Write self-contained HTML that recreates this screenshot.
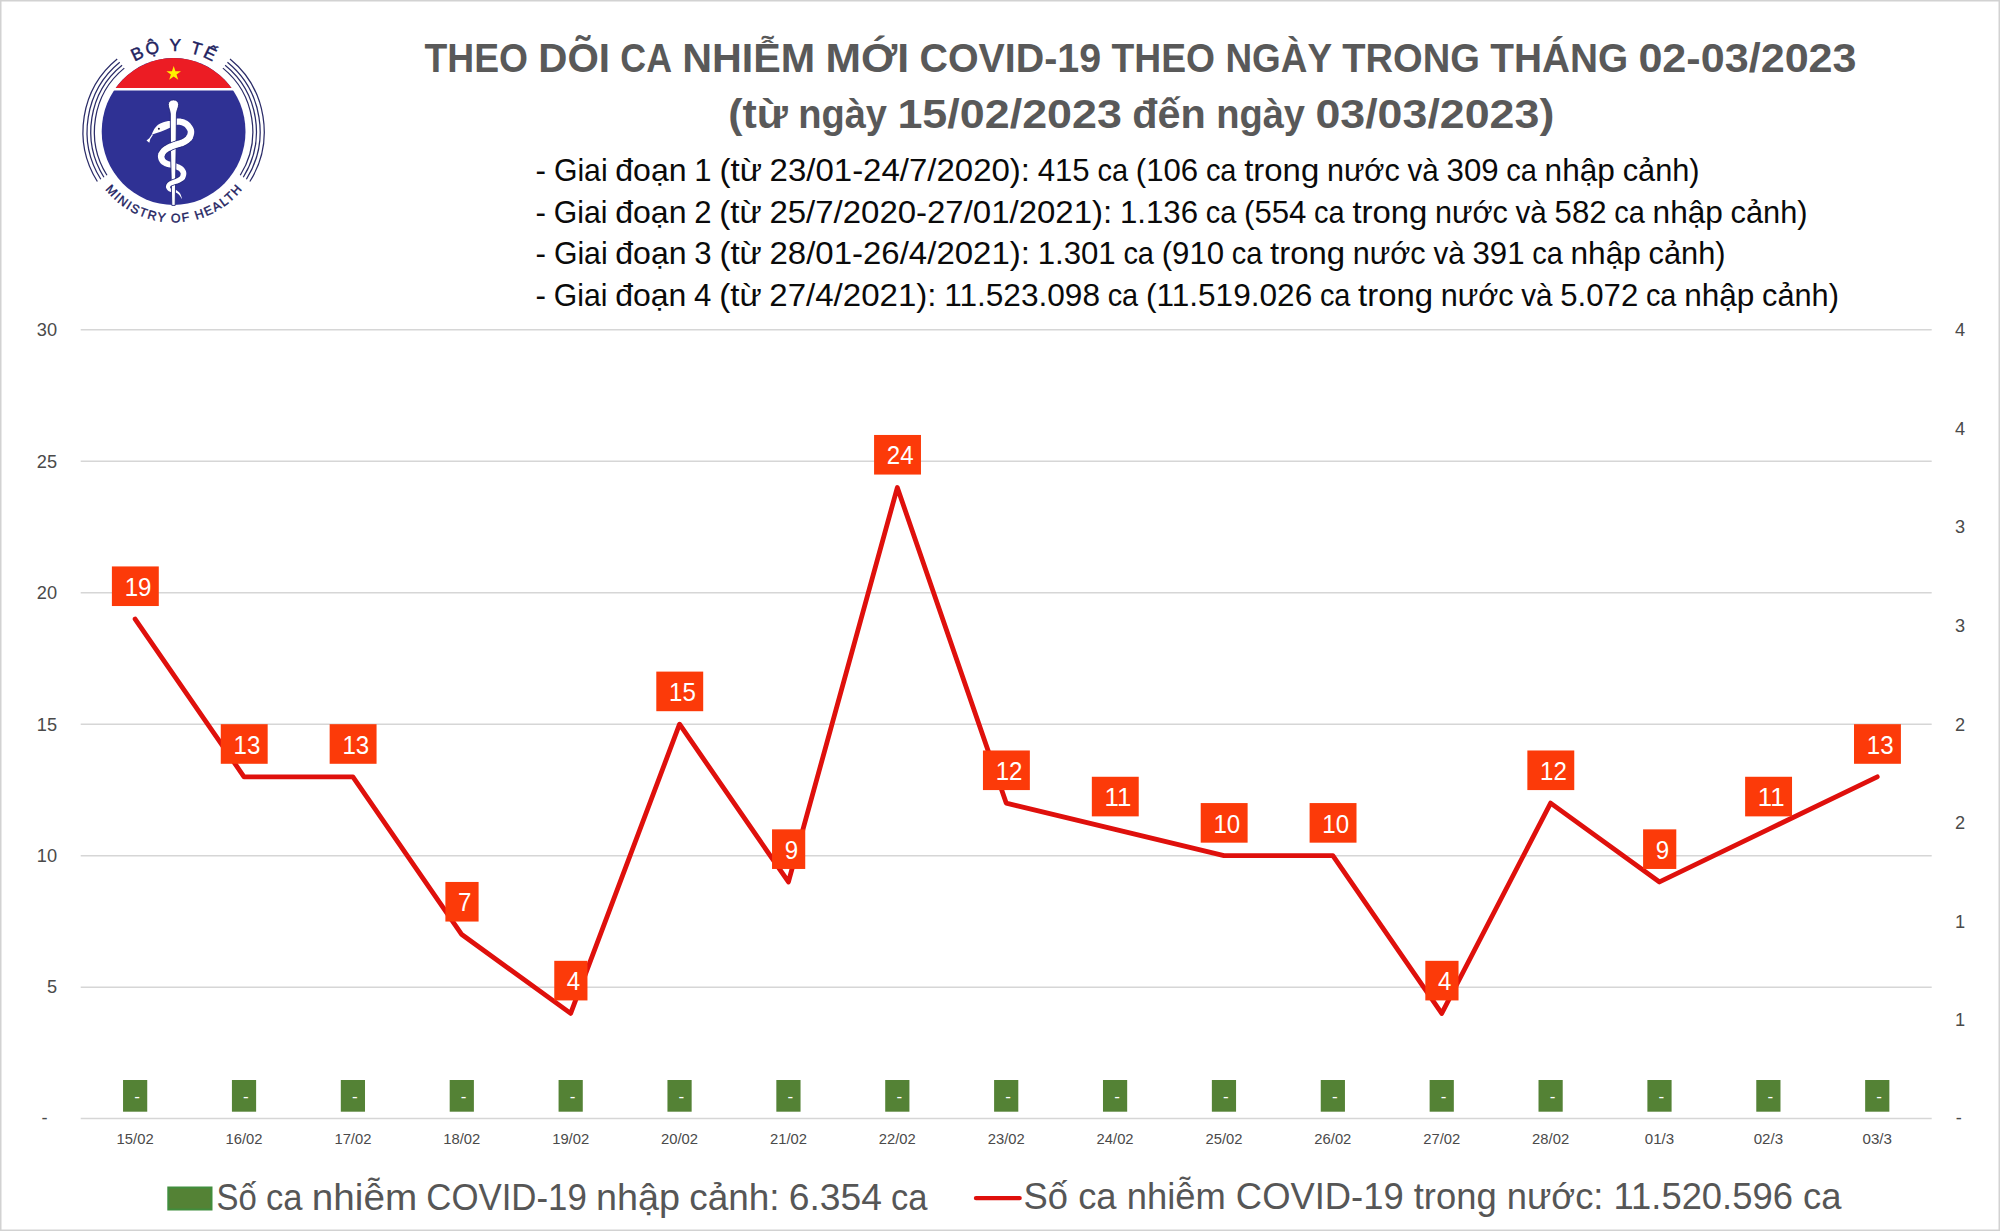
<!DOCTYPE html>
<html lang="vi"><head><meta charset="utf-8"><title>Theo dõi ca nhiễm mới COVID-19</title>
<style>
html,body{margin:0;padding:0;background:#fff;}
body{width:2000px;height:1231px;overflow:hidden;}
svg{display:block;}
text{font-family:"Liberation Sans", sans-serif;}
.t{font-weight:bold;fill:#595959;}
.b{fill:#0a0a0a;}
.ax{fill:#4a4a4a;}
.lg{fill:#565656;}
.dl{fill:#ffffff;}
.logo{fill:#22225f;}
</style></head><body>
<svg width="2000" height="1231" viewBox="0 0 2000 1231">
<rect x="0" y="0" width="2000" height="1231" fill="#ffffff"/>
<rect x="0.75" y="0.75" width="1998.5" height="1229.5" fill="none" stroke="#d2d2d2" stroke-width="1.5"/>

<g stroke="#d6d6d6" stroke-width="1.5">
<line x1="80.7" y1="329.80" x2="1931.7" y2="329.80"/>
<line x1="80.7" y1="461.27" x2="1931.7" y2="461.27"/>
<line x1="80.7" y1="592.73" x2="1931.7" y2="592.73"/>
<line x1="80.7" y1="724.20" x2="1931.7" y2="724.20"/>
<line x1="80.7" y1="855.67" x2="1931.7" y2="855.67"/>
<line x1="80.7" y1="987.13" x2="1931.7" y2="987.13"/>
<line x1="80.7" y1="1118.60" x2="1931.7" y2="1118.60"/>
</g>
<g class="ax" font-size="18.2" text-anchor="end">
<text x="57.0" y="336.10">30</text>
<text x="57.0" y="467.57">25</text>
<text x="57.0" y="599.03">20</text>
<text x="57.0" y="730.50">15</text>
<text x="57.0" y="861.97">10</text>
<text x="57.0" y="993.43">5</text>
<text x="47.6" y="1123.80">-</text>
</g>
<g class="ax" font-size="18.2" text-anchor="start">
<text x="1955" y="336.10">4</text>
<text x="1955" y="434.70">4</text>
<text x="1955" y="533.30">3</text>
<text x="1955" y="631.90">3</text>
<text x="1955" y="730.50">2</text>
<text x="1955" y="829.10">2</text>
<text x="1955" y="927.70">1</text>
<text x="1955" y="1026.30">1</text>
<text x="1955.8" y="1123.80">-</text>
</g>
<g class="ax" font-size="14.3" text-anchor="middle">
<text x="135.14" y="1144.2" textLength="37.0" lengthAdjust="spacingAndGlyphs">15/02</text>
<text x="244.02" y="1144.2" textLength="37.0" lengthAdjust="spacingAndGlyphs">16/02</text>
<text x="352.91" y="1144.2" textLength="37.0" lengthAdjust="spacingAndGlyphs">17/02</text>
<text x="461.79" y="1144.2" textLength="37.0" lengthAdjust="spacingAndGlyphs">18/02</text>
<text x="570.67" y="1144.2" textLength="37.0" lengthAdjust="spacingAndGlyphs">19/02</text>
<text x="679.55" y="1144.2" textLength="37.0" lengthAdjust="spacingAndGlyphs">20/02</text>
<text x="788.44" y="1144.2" textLength="37.0" lengthAdjust="spacingAndGlyphs">21/02</text>
<text x="897.32" y="1144.2" textLength="37.0" lengthAdjust="spacingAndGlyphs">22/02</text>
<text x="1006.20" y="1144.2" textLength="37.0" lengthAdjust="spacingAndGlyphs">23/02</text>
<text x="1115.08" y="1144.2" textLength="37.0" lengthAdjust="spacingAndGlyphs">24/02</text>
<text x="1223.96" y="1144.2" textLength="37.0" lengthAdjust="spacingAndGlyphs">25/02</text>
<text x="1332.85" y="1144.2" textLength="37.0" lengthAdjust="spacingAndGlyphs">26/02</text>
<text x="1441.73" y="1144.2" textLength="37.0" lengthAdjust="spacingAndGlyphs">27/02</text>
<text x="1550.61" y="1144.2" textLength="37.0" lengthAdjust="spacingAndGlyphs">28/02</text>
<text x="1659.49" y="1144.2" textLength="29.4" lengthAdjust="spacingAndGlyphs">01/3</text>
<text x="1768.38" y="1144.2" textLength="29.4" lengthAdjust="spacingAndGlyphs">02/3</text>
<text x="1877.26" y="1144.2" textLength="29.4" lengthAdjust="spacingAndGlyphs">03/3</text>
</g>
<g>
<rect x="123.04" y="1080" width="24.2" height="31.7" fill="#548235"/>
<rect x="231.92" y="1080" width="24.2" height="31.7" fill="#548235"/>
<rect x="340.81" y="1080" width="24.2" height="31.7" fill="#548235"/>
<rect x="449.69" y="1080" width="24.2" height="31.7" fill="#548235"/>
<rect x="558.57" y="1080" width="24.2" height="31.7" fill="#548235"/>
<rect x="667.45" y="1080" width="24.2" height="31.7" fill="#548235"/>
<rect x="776.34" y="1080" width="24.2" height="31.7" fill="#548235"/>
<rect x="885.22" y="1080" width="24.2" height="31.7" fill="#548235"/>
<rect x="994.10" y="1080" width="24.2" height="31.7" fill="#548235"/>
<rect x="1102.98" y="1080" width="24.2" height="31.7" fill="#548235"/>
<rect x="1211.86" y="1080" width="24.2" height="31.7" fill="#548235"/>
<rect x="1320.75" y="1080" width="24.2" height="31.7" fill="#548235"/>
<rect x="1429.63" y="1080" width="24.2" height="31.7" fill="#548235"/>
<rect x="1538.51" y="1080" width="24.2" height="31.7" fill="#548235"/>
<rect x="1647.39" y="1080" width="24.2" height="31.7" fill="#548235"/>
<rect x="1756.28" y="1080" width="24.2" height="31.7" fill="#548235"/>
<rect x="1865.16" y="1080" width="24.2" height="31.7" fill="#548235"/>
</g>
<g class="dl" font-size="17" text-anchor="middle">
<text x="137.04" y="1101.7">-</text>
<text x="245.92" y="1101.7">-</text>
<text x="354.81" y="1101.7">-</text>
<text x="463.69" y="1101.7">-</text>
<text x="572.57" y="1101.7">-</text>
<text x="681.45" y="1101.7">-</text>
<text x="790.34" y="1101.7">-</text>
<text x="899.22" y="1101.7">-</text>
<text x="1008.10" y="1101.7">-</text>
<text x="1116.98" y="1101.7">-</text>
<text x="1225.86" y="1101.7">-</text>
<text x="1334.75" y="1101.7">-</text>
<text x="1443.63" y="1101.7">-</text>
<text x="1552.51" y="1101.7">-</text>
<text x="1661.39" y="1101.7">-</text>
<text x="1770.28" y="1101.7">-</text>
<text x="1879.16" y="1101.7">-</text>
</g>
<polyline points="135.14,619.03 244.02,776.79 352.91,776.79 461.79,934.55 570.67,1013.43 679.55,724.20 788.44,881.96 897.32,487.56 1006.20,803.08 1115.08,829.37 1223.96,855.67 1332.85,855.67 1441.73,1013.43 1550.61,803.08 1659.49,881.96 1768.38,829.37 1877.26,776.79" fill="none" stroke="#df100c" stroke-width="4.8" stroke-linejoin="round" stroke-linecap="round"/>
<g>
<rect x="111.89" y="566.43" width="46.9" height="39.6" fill="#fc3a09"/>
<rect x="220.77" y="724.19" width="46.9" height="39.6" fill="#fc3a09"/>
<rect x="329.66" y="724.19" width="46.9" height="39.6" fill="#fc3a09"/>
<rect x="445.39" y="881.95" width="33.2" height="39.6" fill="#fc3a09"/>
<rect x="554.27" y="960.83" width="33.2" height="39.6" fill="#fc3a09"/>
<rect x="656.30" y="671.60" width="46.9" height="39.6" fill="#fc3a09"/>
<rect x="772.04" y="829.36" width="33.2" height="39.6" fill="#fc3a09"/>
<rect x="874.07" y="434.96" width="46.9" height="39.6" fill="#fc3a09"/>
<rect x="982.95" y="750.48" width="46.9" height="39.6" fill="#fc3a09"/>
<rect x="1091.83" y="776.77" width="46.9" height="39.6" fill="#fc3a09"/>
<rect x="1200.71" y="803.07" width="46.9" height="39.6" fill="#fc3a09"/>
<rect x="1309.60" y="803.07" width="46.9" height="39.6" fill="#fc3a09"/>
<rect x="1425.33" y="960.83" width="33.2" height="39.6" fill="#fc3a09"/>
<rect x="1527.36" y="750.48" width="46.9" height="39.6" fill="#fc3a09"/>
<rect x="1643.09" y="829.36" width="33.2" height="39.6" fill="#fc3a09"/>
<rect x="1745.13" y="776.77" width="46.9" height="39.6" fill="#fc3a09"/>
<rect x="1854.01" y="724.19" width="46.9" height="39.6" fill="#fc3a09"/>
</g>
<g class="dl" font-size="25" text-anchor="middle">
<text x="138.04" y="595.93" textLength="26.8" lengthAdjust="spacingAndGlyphs">19</text>
<text x="246.92" y="753.69" textLength="26.8" lengthAdjust="spacingAndGlyphs">13</text>
<text x="355.81" y="753.69" textLength="26.8" lengthAdjust="spacingAndGlyphs">13</text>
<text x="464.69" y="911.45" textLength="13.4" lengthAdjust="spacingAndGlyphs">7</text>
<text x="573.57" y="990.33" textLength="13.4" lengthAdjust="spacingAndGlyphs">4</text>
<text x="682.45" y="701.10" textLength="26.8" lengthAdjust="spacingAndGlyphs">15</text>
<text x="791.34" y="858.86" textLength="13.4" lengthAdjust="spacingAndGlyphs">9</text>
<text x="900.22" y="464.46" textLength="26.8" lengthAdjust="spacingAndGlyphs">24</text>
<text x="1009.10" y="779.98" textLength="26.8" lengthAdjust="spacingAndGlyphs">12</text>
<text x="1117.98" y="806.27" textLength="26.8" lengthAdjust="spacingAndGlyphs">11</text>
<text x="1226.86" y="832.57" textLength="26.8" lengthAdjust="spacingAndGlyphs">10</text>
<text x="1335.75" y="832.57" textLength="26.8" lengthAdjust="spacingAndGlyphs">10</text>
<text x="1444.63" y="990.33" textLength="13.4" lengthAdjust="spacingAndGlyphs">4</text>
<text x="1553.51" y="779.98" textLength="26.8" lengthAdjust="spacingAndGlyphs">12</text>
<text x="1662.39" y="858.86" textLength="13.4" lengthAdjust="spacingAndGlyphs">9</text>
<text x="1771.28" y="806.27" textLength="26.8" lengthAdjust="spacingAndGlyphs">11</text>
<text x="1880.16" y="753.69" textLength="26.8" lengthAdjust="spacingAndGlyphs">13</text>
</g>
<rect x="168.3" y="1187.5" width="43.2" height="22" fill="#548235" stroke="#418d3d" stroke-width="2"/>
<line x1="976" y1="1198.1" x2="1019.6" y2="1198.1" stroke="#df100c" stroke-width="4.4" stroke-linecap="round"/>
<g class="lg" font-size="37.4">
<text x="216.5" y="1210.2" textLength="40.3" lengthAdjust="spacingAndGlyphs">Số</text>
<text x="266.0" y="1210.2" textLength="36.5" lengthAdjust="spacingAndGlyphs">ca</text>
<text x="311.8" y="1210.2" textLength="105.3" lengthAdjust="spacingAndGlyphs">nhiễm</text>
<text x="426.3" y="1210.2" textLength="160.5" lengthAdjust="spacingAndGlyphs">COVID-19</text>
<text x="596.0" y="1210.2" textLength="84.0" lengthAdjust="spacingAndGlyphs">nhập</text>
<text x="689.2" y="1210.2" textLength="90.4" lengthAdjust="spacingAndGlyphs">cảnh:</text>
<text x="788.8" y="1210.2" textLength="93.1" lengthAdjust="spacingAndGlyphs">6.354</text>
<text x="891.1" y="1210.2" textLength="36.5" lengthAdjust="spacingAndGlyphs">ca</text>
</g>
<text class="lg" font-size="36.37" x="1023.6" y="1208.8" textLength="817.8" lengthAdjust="spacingAndGlyphs">Số ca nhiễm COVID-19 trong nước: 11.520.596 ca</text>
<g class="t" font-size="41.5">
<text x="424.5" y="71.9" textLength="103.5" lengthAdjust="spacingAndGlyphs">THEO</text>
<text x="538.3" y="71.9" textLength="71.7" lengthAdjust="spacingAndGlyphs">DÕI</text>
<text x="620.3" y="71.9" textLength="51.7" lengthAdjust="spacingAndGlyphs">CA</text>
<text x="682.3" y="71.9" textLength="132.9" lengthAdjust="spacingAndGlyphs">NHIỄM</text>
<text x="825.5" y="71.9" textLength="83.7" lengthAdjust="spacingAndGlyphs">MỚI</text>
<text x="919.5" y="71.9" textLength="181.7" lengthAdjust="spacingAndGlyphs">COVID-19</text>
<text x="1111.6" y="71.9" textLength="103.5" lengthAdjust="spacingAndGlyphs">THEO</text>
<text x="1225.4" y="71.9" textLength="106.6" lengthAdjust="spacingAndGlyphs">NGÀY</text>
<text x="1342.3" y="71.9" textLength="137.6" lengthAdjust="spacingAndGlyphs">TRONG</text>
<text x="1490.2" y="71.9" textLength="137.9" lengthAdjust="spacingAndGlyphs">THÁNG</text>
<text x="1638.4" y="71.9" textLength="218.2" lengthAdjust="spacingAndGlyphs">02-03/2023</text>
</g>
<g class="t" font-size="41.5">
<text x="728.2" y="128.2" textLength="59.7" lengthAdjust="spacingAndGlyphs">(từ</text>
<text x="798.2" y="128.2" textLength="88.8" lengthAdjust="spacingAndGlyphs">ngày</text>
<text x="897.4" y="128.2" textLength="224.6" lengthAdjust="spacingAndGlyphs">15/02/2023</text>
<text x="1132.3" y="128.2" textLength="73.5" lengthAdjust="spacingAndGlyphs">đến</text>
<text x="1216.2" y="128.2" textLength="88.8" lengthAdjust="spacingAndGlyphs">ngày</text>
<text x="1315.4" y="128.2" textLength="238.9" lengthAdjust="spacingAndGlyphs">03/03/2023)</text>
</g>
<g class="b" font-size="31.3">
<text x="535.6" y="181.0" textLength="10.5" lengthAdjust="spacingAndGlyphs">-</text>
<text x="553.9" y="181.0" textLength="53.7" lengthAdjust="spacingAndGlyphs">Giai</text>
<text x="615.3" y="181.0" textLength="71.3" lengthAdjust="spacingAndGlyphs">đoạn</text>
<text x="694.3" y="181.0" textLength="17.3" lengthAdjust="spacingAndGlyphs">1</text>
<text x="719.4" y="181.0" textLength="42.5" lengthAdjust="spacingAndGlyphs">(từ</text>
<text x="769.6" y="181.0" textLength="260.4" lengthAdjust="spacingAndGlyphs">23/01-24/7/2020):</text>
<text x="1037.7" y="181.0" textLength="52.0" lengthAdjust="spacingAndGlyphs">415</text>
<text x="1097.5" y="181.0" textLength="30.6" lengthAdjust="spacingAndGlyphs">ca</text>
<text x="1135.8" y="181.0" textLength="62.4" lengthAdjust="spacingAndGlyphs">(106</text>
<text x="1205.9" y="181.0" textLength="30.6" lengthAdjust="spacingAndGlyphs">ca</text>
<text x="1244.2" y="181.0" textLength="75.0" lengthAdjust="spacingAndGlyphs">trong</text>
<text x="1326.9" y="181.0" textLength="72.8" lengthAdjust="spacingAndGlyphs">nước</text>
<text x="1407.5" y="181.0" textLength="31.3" lengthAdjust="spacingAndGlyphs">và</text>
<text x="1446.6" y="181.0" textLength="52.0" lengthAdjust="spacingAndGlyphs">309</text>
<text x="1506.3" y="181.0" textLength="30.6" lengthAdjust="spacingAndGlyphs">ca</text>
<text x="1544.6" y="181.0" textLength="70.3" lengthAdjust="spacingAndGlyphs">nhập</text>
<text x="1622.7" y="181.0" textLength="76.9" lengthAdjust="spacingAndGlyphs">cảnh)</text>
</g>
<g class="b" font-size="31.3">
<text x="535.6" y="222.7" textLength="10.5" lengthAdjust="spacingAndGlyphs">-</text>
<text x="553.8" y="222.7" textLength="53.7" lengthAdjust="spacingAndGlyphs">Giai</text>
<text x="615.2" y="222.7" textLength="71.3" lengthAdjust="spacingAndGlyphs">đoạn</text>
<text x="694.2" y="222.7" textLength="17.3" lengthAdjust="spacingAndGlyphs">2</text>
<text x="719.3" y="222.7" textLength="42.4" lengthAdjust="spacingAndGlyphs">(từ</text>
<text x="769.4" y="222.7" textLength="342.8" lengthAdjust="spacingAndGlyphs">25/7/2020-27/01/2021):</text>
<text x="1120.0" y="222.7" textLength="78.0" lengthAdjust="spacingAndGlyphs">1.136</text>
<text x="1205.7" y="222.7" textLength="30.6" lengthAdjust="spacingAndGlyphs">ca</text>
<text x="1244.0" y="222.7" textLength="62.4" lengthAdjust="spacingAndGlyphs">(554</text>
<text x="1314.1" y="222.7" textLength="30.6" lengthAdjust="spacingAndGlyphs">ca</text>
<text x="1352.4" y="222.7" textLength="74.9" lengthAdjust="spacingAndGlyphs">trong</text>
<text x="1435.0" y="222.7" textLength="72.8" lengthAdjust="spacingAndGlyphs">nước</text>
<text x="1515.5" y="222.7" textLength="31.3" lengthAdjust="spacingAndGlyphs">và</text>
<text x="1554.6" y="222.7" textLength="52.0" lengthAdjust="spacingAndGlyphs">582</text>
<text x="1614.3" y="222.7" textLength="30.6" lengthAdjust="spacingAndGlyphs">ca</text>
<text x="1652.6" y="222.7" textLength="70.3" lengthAdjust="spacingAndGlyphs">nhập</text>
<text x="1730.6" y="222.7" textLength="76.9" lengthAdjust="spacingAndGlyphs">cảnh)</text>
</g>
<g class="b" font-size="31.3">
<text x="535.6" y="264.3" textLength="10.5" lengthAdjust="spacingAndGlyphs">-</text>
<text x="553.9" y="264.3" textLength="53.7" lengthAdjust="spacingAndGlyphs">Giai</text>
<text x="615.3" y="264.3" textLength="71.3" lengthAdjust="spacingAndGlyphs">đoạn</text>
<text x="694.3" y="264.3" textLength="17.3" lengthAdjust="spacingAndGlyphs">3</text>
<text x="719.4" y="264.3" textLength="42.4" lengthAdjust="spacingAndGlyphs">(từ</text>
<text x="769.5" y="264.3" textLength="260.4" lengthAdjust="spacingAndGlyphs">28/01-26/4/2021):</text>
<text x="1037.7" y="264.3" textLength="78.0" lengthAdjust="spacingAndGlyphs">1.301</text>
<text x="1123.4" y="264.3" textLength="30.6" lengthAdjust="spacingAndGlyphs">ca</text>
<text x="1161.7" y="264.3" textLength="62.4" lengthAdjust="spacingAndGlyphs">(910</text>
<text x="1231.8" y="264.3" textLength="30.6" lengthAdjust="spacingAndGlyphs">ca</text>
<text x="1270.1" y="264.3" textLength="75.0" lengthAdjust="spacingAndGlyphs">trong</text>
<text x="1352.8" y="264.3" textLength="72.8" lengthAdjust="spacingAndGlyphs">nước</text>
<text x="1433.4" y="264.3" textLength="31.3" lengthAdjust="spacingAndGlyphs">và</text>
<text x="1472.5" y="264.3" textLength="52.0" lengthAdjust="spacingAndGlyphs">391</text>
<text x="1532.2" y="264.3" textLength="30.6" lengthAdjust="spacingAndGlyphs">ca</text>
<text x="1570.5" y="264.3" textLength="70.3" lengthAdjust="spacingAndGlyphs">nhập</text>
<text x="1648.6" y="264.3" textLength="76.9" lengthAdjust="spacingAndGlyphs">cảnh)</text>
</g>
<g class="b" font-size="31.3">
<text x="535.6" y="306.0" textLength="10.5" lengthAdjust="spacingAndGlyphs">-</text>
<text x="553.8" y="306.0" textLength="53.6" lengthAdjust="spacingAndGlyphs">Giai</text>
<text x="615.2" y="306.0" textLength="71.2" lengthAdjust="spacingAndGlyphs">đoạn</text>
<text x="694.1" y="306.0" textLength="17.3" lengthAdjust="spacingAndGlyphs">4</text>
<text x="719.2" y="306.0" textLength="42.4" lengthAdjust="spacingAndGlyphs">(từ</text>
<text x="769.3" y="306.0" textLength="167.2" lengthAdjust="spacingAndGlyphs">27/4/2021):</text>
<text x="944.2" y="306.0" textLength="155.8" lengthAdjust="spacingAndGlyphs">11.523.098</text>
<text x="1107.7" y="306.0" textLength="30.5" lengthAdjust="spacingAndGlyphs">ca</text>
<text x="1146.0" y="306.0" textLength="166.2" lengthAdjust="spacingAndGlyphs">(11.519.026</text>
<text x="1319.9" y="306.0" textLength="30.5" lengthAdjust="spacingAndGlyphs">ca</text>
<text x="1358.1" y="306.0" textLength="74.9" lengthAdjust="spacingAndGlyphs">trong</text>
<text x="1440.7" y="306.0" textLength="72.8" lengthAdjust="spacingAndGlyphs">nước</text>
<text x="1521.2" y="306.0" textLength="31.3" lengthAdjust="spacingAndGlyphs">và</text>
<text x="1560.3" y="306.0" textLength="77.9" lengthAdjust="spacingAndGlyphs">5.072</text>
<text x="1645.9" y="306.0" textLength="30.5" lengthAdjust="spacingAndGlyphs">ca</text>
<text x="1684.2" y="306.0" textLength="70.2" lengthAdjust="spacingAndGlyphs">nhập</text>
<text x="1762.1" y="306.0" textLength="76.8" lengthAdjust="spacingAndGlyphs">cảnh)</text>
</g>
<g id="logo">
<g fill="none" stroke="#2b2c68" stroke-width="1.25">
<path d="M117.20,59.02 A90.6,92.62 0 0 0 97.36,181.53"/>
<path d="M230.00,59.02 A90.6,92.62 0 0 1 249.84,181.53"/>
<path d="M119.75,62.30 A86.5,88.42 0 0 0 100.81,179.27"/>
<path d="M227.45,62.30 A86.5,88.42 0 0 1 246.39,179.27"/>
<path d="M122.06,65.26 A82.8,84.64 0 0 0 103.92,177.23"/>
<path d="M225.14,65.26 A82.8,84.64 0 0 1 243.28,177.23"/>
<path d="M124.30,68.14 A79.2,80.96 0 0 0 106.95,175.24"/>
<path d="M222.90,68.14 A79.2,80.96 0 0 1 240.25,175.24"/>
</g>
<ellipse cx="173.6" cy="131.5" rx="71.9" ry="73.5" fill="#2f3194"/>
<path d="M115.04,88.6 L115.64,88.0 A71.9,73.5 0 0 1 231.56,88.0 L232.16,88.6 Z" fill="#ec1c24"/>
<rect x="112.64" y="88.0" width="121.91" height="2.5" fill="#ffffff"/>
<polygon points="173.70,65.90 175.43,71.22 181.02,71.22 176.50,74.51 178.23,79.83 173.70,76.54 169.17,79.83 170.90,74.51 166.38,71.22 171.97,71.22" fill="#fff200"/>
<path d="M170.98,127.03 L171.70,126.80 L172.44,126.52 L173.16,126.24 L173.85,125.97 L174.51,125.70 L175.14,125.45 L175.75,125.23 L176.31,125.04 L176.84,124.89 L177.32,124.79 L177.74,124.72 L178.14,124.70 L178.58,124.70 L179.06,124.74 L179.56,124.80 L180.07,124.89 L180.59,125.01 L181.12,125.16 L181.63,125.32 L182.13,125.51 L182.62,125.71 L183.08,125.92 L183.50,126.14 L183.87,126.35 L184.17,126.55 L184.47,126.78 L184.77,127.04 L185.08,127.34 L185.39,127.67 L185.69,128.03 L185.99,128.39 L186.26,128.77 L186.53,129.15 L186.77,129.52 L186.99,129.88 L187.18,130.21 L187.33,130.49 L187.44,130.72 L187.53,130.93 L187.60,131.11 L187.65,131.26 L187.68,131.41 L187.71,131.56 L187.72,131.71 L187.73,131.88 L187.72,132.08 L187.71,132.31 L187.68,132.57 L187.63,132.87 L187.57,133.19 L187.49,133.53 L187.40,133.88 L187.29,134.23 L187.17,134.58 L187.04,134.91 L186.89,135.24 L186.73,135.54 L186.56,135.83 L186.39,136.08 L186.21,136.31 L186.00,136.54 L185.74,136.80 L185.44,137.06 L185.10,137.34 L184.72,137.62 L184.32,137.91 L183.89,138.19 L183.44,138.47 L182.98,138.74 L182.50,139.00 L182.03,139.25 L181.58,139.48 L181.17,139.67 L180.75,139.84 L180.29,140.01 L179.79,140.17 L179.27,140.33 L178.72,140.48 L178.15,140.64 L177.57,140.80 L176.97,140.96 L176.36,141.14 L175.74,141.33 L175.15,141.53 L174.61,141.71 L174.11,141.89 L173.61,142.06 L173.12,142.24 L172.62,142.42 L172.13,142.60 L171.64,142.79 L171.14,142.98 L170.64,143.18 L170.13,143.40 L169.62,143.62 L169.12,143.86 L168.63,144.09 L168.13,144.33 L167.62,144.58 L167.10,144.83 L166.57,145.10 L166.04,145.38 L165.51,145.68 L164.99,145.98 L164.46,146.30 L163.95,146.64 L163.44,147.00 L162.95,147.38 L162.48,147.78 L162.04,148.19 L161.63,148.61 L161.25,149.03 L160.89,149.45 L160.56,149.88 L160.25,150.30 L159.97,150.71 L159.70,151.12 L159.46,151.51 L159.24,151.90 L159.03,152.27 L158.84,152.64 L158.66,153.01 L158.49,153.40 L158.34,153.81 L158.20,154.23 L158.09,154.67 L158.00,155.12 L157.94,155.59 L157.91,156.05 L157.91,156.51 L157.93,156.96 L157.98,157.41 L158.05,157.85 L158.14,158.31 L158.26,158.76 L158.39,159.23 L158.55,159.70 L158.73,160.17 L158.92,160.64 L159.15,161.12 L159.40,161.60 L159.68,162.07 L160.00,162.54 L160.36,162.99 L160.75,163.42 L161.16,163.81 L161.57,164.16 L161.99,164.48 L162.42,164.78 L162.85,165.05 L163.27,165.31 L163.70,165.54 L164.12,165.76 L164.54,165.96 L164.94,166.15 L165.37,166.33 L165.83,166.53 L166.32,166.70 L166.79,166.84 L167.24,166.96 L167.67,167.06 L168.08,167.14 L168.47,167.22 L168.85,167.29 L169.20,167.36 L169.54,167.43 L169.86,167.50 L170.20,167.59 L170.58,167.70 L170.99,167.81 L171.40,167.93 L171.82,168.05 L172.23,168.16 L172.64,168.29 L173.05,168.41 L173.45,168.53 L173.84,168.66 L174.22,168.79 L174.59,168.92 L174.97,169.06 L175.36,169.21 L175.77,169.37 L176.17,169.53 L176.56,169.69 L176.93,169.84 L177.29,170.00 L177.63,170.16 L177.95,170.31 L178.23,170.46 L178.48,170.61 L178.70,170.74 L178.88,170.87 L179.04,171.00 L179.21,171.15 L179.37,171.31 L179.53,171.49 L179.68,171.67 L179.83,171.87 L179.97,172.06 L180.11,172.26 L180.23,172.46 L180.34,172.65 L180.43,172.83 L180.51,173.00 L180.57,173.12 L180.61,173.21 L180.64,173.28 L180.66,173.34 L180.67,173.39 L180.68,173.44 L180.69,173.50 L180.69,173.57 L180.69,173.67 L180.68,173.79 L180.67,173.93 L180.64,174.12 L180.61,174.33 L180.58,174.56 L180.55,174.78 L180.50,174.99 L180.46,175.19 L180.41,175.39 L180.35,175.57 L180.29,175.73 L180.23,175.88 L180.16,176.01 L180.10,176.12 L180.03,176.23 L179.93,176.35 L179.79,176.49 L179.60,176.66 L179.38,176.84 L179.12,177.03 L178.84,177.22 L178.54,177.42 L178.23,177.61 L177.90,177.80 L177.56,177.99 L177.23,178.18 L176.91,178.35 L176.63,178.49 L176.35,178.62 L176.05,178.75 L175.72,178.88 L175.38,179.01 L175.01,179.14 L174.64,179.27 L174.25,179.40 L173.85,179.54 L173.44,179.69 L173.03,179.85 L172.63,180.02 L172.28,180.17 L171.94,180.32 L171.59,180.48 L171.23,180.63 L170.87,180.80 L170.50,180.97 L170.14,181.15 L169.77,181.33 L169.41,181.54 L169.05,181.76 L168.70,182.00 L168.36,182.26 L168.05,182.52 L167.77,182.78 L167.51,183.06 L167.26,183.35 L167.03,183.65 L166.82,183.96 L166.63,184.28 L166.46,184.62 L166.31,184.97 L166.19,185.32 L166.09,185.69 L166.02,186.08 L166.01,186.49 L166.02,186.89 L166.08,187.27 L166.15,187.64 L166.26,188.00 L166.38,188.34 L166.52,188.67 L166.68,188.99 L166.86,189.29 L167.06,189.59 L167.27,189.87 L167.50,190.13 L167.74,190.37 L168.00,190.60 L168.26,190.80 L168.53,190.99 L168.82,191.16 L169.11,191.32 L169.41,191.47 L169.72,191.60 L170.03,191.72 L170.35,191.83 L170.68,191.93 L171.05,192.03 L171.46,192.12 L171.90,192.19 L172.33,192.23 L172.75,192.25 L173.16,192.27 L173.57,192.28 L173.96,192.30 L174.33,192.32 L174.68,192.35 L175.00,192.39 L175.28,192.44 L175.54,192.51 L175.82,192.60 L176.11,192.72 L176.39,192.84 L176.67,192.97 L176.94,193.12 L177.20,193.28 L177.47,193.45 L177.73,193.64 L177.98,193.84 L178.24,194.06 L178.49,194.29 L178.74,194.53 L179.00,194.78 L179.25,195.05 L179.51,195.35 L179.76,195.68 L180.01,196.03 L180.26,196.40 L180.51,196.77 L180.75,197.16 L181.00,197.54 L181.25,197.93 L181.51,198.31 L181.77,198.67 L182.03,198.53 L181.88,198.12 L181.73,197.69 L181.59,197.26 L181.45,196.83 L181.30,196.39 L181.15,195.95 L181.00,195.52 L180.84,195.09 L180.67,194.67 L180.49,194.25 L180.28,193.85 L180.06,193.47 L179.81,193.13 L179.56,192.80 L179.29,192.50 L179.02,192.20 L178.74,191.92 L178.45,191.65 L178.14,191.39 L177.83,191.15 L177.51,190.91 L177.17,190.70 L176.83,190.49 L176.46,190.29 L176.03,190.11 L175.58,189.96 L175.14,189.84 L174.69,189.74 L174.26,189.66 L173.83,189.59 L173.43,189.53 L173.05,189.47 L172.71,189.40 L172.41,189.33 L172.16,189.26 L171.95,189.17 L171.74,189.07 L171.52,188.96 L171.32,188.84 L171.14,188.73 L170.97,188.62 L170.83,188.50 L170.70,188.39 L170.59,188.28 L170.50,188.18 L170.42,188.07 L170.35,187.97 L170.30,187.87 L170.26,187.77 L170.21,187.66 L170.17,187.54 L170.14,187.41 L170.11,187.28 L170.10,187.16 L170.09,187.04 L170.09,186.93 L170.10,186.84 L170.12,186.78 L170.15,186.74 L170.18,186.72 L170.19,186.69 L170.21,186.64 L170.25,186.58 L170.29,186.51 L170.34,186.43 L170.40,186.34 L170.48,186.24 L170.57,186.15 L170.67,186.05 L170.79,185.94 L170.91,185.84 L171.04,185.74 L171.18,185.66 L171.34,185.57 L171.55,185.47 L171.78,185.36 L172.05,185.25 L172.33,185.13 L172.64,185.01 L172.97,184.89 L173.31,184.77 L173.66,184.64 L174.02,184.51 L174.37,184.38 L174.68,184.28 L174.99,184.18 L175.33,184.08 L175.69,183.98 L176.06,183.87 L176.46,183.76 L176.87,183.65 L177.30,183.52 L177.74,183.38 L178.19,183.22 L178.65,183.04 L179.09,182.85 L179.49,182.66 L179.89,182.48 L180.29,182.28 L180.71,182.06 L181.13,181.84 L181.55,181.60 L181.96,181.35 L182.38,181.09 L182.79,180.80 L183.19,180.49 L183.59,180.15 L183.97,179.77 L184.33,179.36 L184.64,178.94 L184.92,178.51 L185.15,178.08 L185.36,177.65 L185.53,177.24 L185.68,176.84 L185.81,176.45 L185.92,176.08 L186.01,175.72 L186.09,175.40 L186.16,175.08 L186.22,174.76 L186.26,174.42 L186.30,174.07 L186.32,173.70 L186.33,173.33 L186.31,172.94 L186.26,172.54 L186.20,172.14 L186.10,171.74 L185.98,171.35 L185.84,170.97 L185.69,170.60 L185.52,170.25 L185.33,169.91 L185.13,169.55 L184.91,169.19 L184.67,168.83 L184.40,168.46 L184.12,168.09 L183.81,167.73 L183.48,167.36 L183.12,167.01 L182.74,166.66 L182.32,166.33 L181.88,166.02 L181.43,165.73 L180.98,165.47 L180.53,165.23 L180.07,165.01 L179.62,164.80 L179.17,164.60 L178.73,164.42 L178.29,164.24 L177.86,164.07 L177.45,163.91 L177.03,163.74 L176.60,163.57 L176.14,163.40 L175.69,163.24 L175.23,163.08 L174.78,162.93 L174.33,162.79 L173.89,162.65 L173.46,162.52 L173.03,162.39 L172.62,162.26 L172.22,162.14 L171.80,162.01 L171.36,161.88 L170.91,161.76 L170.49,161.65 L170.09,161.56 L169.71,161.47 L169.37,161.38 L169.05,161.30 L168.76,161.22 L168.50,161.14 L168.26,161.06 L168.05,160.97 L167.83,160.87 L167.57,160.73 L167.28,160.57 L166.99,160.40 L166.72,160.24 L166.45,160.07 L166.20,159.90 L165.97,159.73 L165.77,159.56 L165.59,159.40 L165.44,159.25 L165.32,159.12 L165.24,159.01 L165.16,158.89 L165.07,158.74 L164.98,158.56 L164.89,158.36 L164.80,158.14 L164.71,157.91 L164.64,157.67 L164.57,157.42 L164.51,157.19 L164.47,156.97 L164.44,156.77 L164.42,156.59 L164.41,156.46 L164.40,156.35 L164.41,156.27 L164.41,156.21 L164.42,156.17 L164.42,156.12 L164.44,156.05 L164.47,155.97 L164.51,155.86 L164.57,155.72 L164.66,155.54 L164.77,155.33 L164.90,155.10 L165.04,154.85 L165.20,154.59 L165.37,154.33 L165.55,154.07 L165.74,153.81 L165.94,153.55 L166.15,153.30 L166.37,153.06 L166.59,152.83 L166.82,152.62 L167.05,152.42 L167.31,152.22 L167.60,152.01 L167.94,151.79 L168.31,151.57 L168.71,151.34 L169.13,151.10 L169.57,150.87 L170.02,150.64 L170.49,150.41 L170.96,150.18 L171.42,149.96 L171.88,149.74 L172.30,149.55 L172.72,149.36 L173.13,149.19 L173.55,149.02 L173.97,148.85 L174.41,148.69 L174.85,148.52 L175.31,148.36 L175.78,148.19 L176.26,148.02 L176.76,147.85 L177.25,147.67 L177.72,147.52 L178.20,147.37 L178.73,147.22 L179.28,147.07 L179.87,146.91 L180.48,146.74 L181.11,146.56 L181.75,146.37 L182.41,146.15 L183.09,145.90 L183.76,145.63 L184.42,145.32 L185.02,145.02 L185.60,144.71 L186.19,144.38 L186.78,144.04 L187.37,143.68 L187.96,143.29 L188.53,142.89 L189.10,142.47 L189.65,142.02 L190.19,141.54 L190.70,141.03 L191.19,140.49 L191.64,139.91 L192.05,139.31 L192.41,138.71 L192.73,138.09 L193.01,137.48 L193.25,136.87 L193.47,136.27 L193.65,135.68 L193.81,135.09 L193.93,134.52 L194.04,133.97 L194.12,133.43 L194.18,132.89 L194.22,132.35 L194.23,131.81 L194.21,131.25 L194.15,130.70 L194.06,130.14 L193.93,129.59 L193.76,129.04 L193.57,128.51 L193.34,127.99 L193.09,127.48 L192.82,126.99 L192.53,126.51 L192.22,126.01 L191.87,125.49 L191.49,124.96 L191.08,124.42 L190.63,123.87 L190.15,123.33 L189.63,122.79 L189.07,122.26 L188.46,121.76 L187.81,121.28 L187.13,120.85 L186.46,120.49 L185.78,120.16 L185.08,119.85 L184.35,119.57 L183.59,119.32 L182.82,119.09 L182.03,118.90 L181.22,118.73 L180.40,118.61 L179.57,118.53 L178.73,118.49 L177.86,118.50 L176.96,118.59 L176.07,118.75 L175.23,118.96 L174.43,119.21 L173.66,119.48 L172.92,119.77 L172.21,120.07 L171.52,120.36 L170.87,120.64 L170.24,120.90 L169.64,121.14 L169.02,121.37Z" fill="#ffffff"/>
<path d="M170.5,121.0 C165,120.9 159,123.2 155.6,127.2 C153.6,129.6 152.6,132.2 151.7,134.7 C157,133.4 164,130.6 170.5,127.6 Z" fill="#ffffff"/>
<path d="M152.0,134.3 L149.3,138.2 L146.5,140.5 L149.3,142.7 L150.3,139.0 L152.9,135.0 Z" fill="#ffffff"/>
<circle cx="158.9" cy="128.8" r="1.0" fill="#1c1c3c"/>
<path d="M173.5,99.9 C176.9,99.9 178.6,102.0 178.6,104.6 C178.6,108 176.6,110 176.4,114 L176.1,150 L175.2,205.4 L171.8,205.4 L170.5,150 L170.3,114 C170.1,110 168.3,108 168.3,104.6 C168.3,102.0 170.1,99.9 173.5,99.9 Z" fill="#ffffff" stroke="#23267a" stroke-width="0.9"/>
<path d="M185.60,135.80 L185.42,135.99 L185.20,136.21 L184.92,136.45 L184.61,136.71 L184.25,136.98 L183.87,137.24 L183.46,137.51 L183.03,137.78 L182.58,138.04 L182.12,138.29 L181.66,138.54 L181.23,138.76 L180.85,138.93 L180.46,139.09 L180.03,139.25 L179.55,139.41 L179.04,139.56 L178.51,139.71 L177.94,139.87 L177.36,140.03 L176.75,140.19 L176.13,140.37 L175.50,140.56 L174.89,140.77 L174.35,140.96 L173.84,141.13 L173.34,141.31 L172.85,141.49 L172.35,141.67 L171.85,141.85 L171.35,142.04 L170.84,142.24 L170.33,142.45 L169.82,142.66 L169.30,142.90 L168.78,143.13 L168.29,143.37 L167.79,143.61 L167.27,143.86 L166.74,144.12 L166.21,144.39 L165.66,144.68 L165.12,144.98 L164.58,145.29 L164.04,145.63 L163.50,145.98 L162.97,146.35 L162.44,146.76 L161.95,147.18 L161.48,147.62 L161.05,148.06 L160.65,148.50 L160.27,148.95 L159.92,149.39 L159.60,149.83 L159.30,150.27 L159.03,150.69 L158.77,151.10 L158.54,151.50 L158.33,151.89 L165.47,155.71 L165.59,155.49 L165.73,155.26 L165.87,155.02 L166.03,154.78 L166.20,154.53 L166.38,154.29 L166.56,154.06 L166.75,153.83 L166.95,153.61 L167.15,153.41 L167.35,153.22 L167.56,153.04 L167.78,152.87 L168.05,152.68 L168.37,152.47 L168.72,152.25 L169.10,152.03 L169.51,151.81 L169.94,151.58 L170.38,151.35 L170.84,151.13 L171.30,150.90 L171.77,150.68 L172.22,150.47 L172.63,150.28 L173.03,150.10 L173.44,149.93 L173.85,149.76 L174.26,149.60 L174.69,149.44 L175.12,149.28 L175.58,149.11 L176.04,148.95 L176.53,148.78 L177.03,148.60 L177.51,148.43 L177.96,148.28 L178.43,148.14 L178.94,147.99 L179.49,147.84 L180.08,147.68 L180.69,147.51 L181.33,147.33 L182.00,147.13 L182.68,146.90 L183.37,146.65 L184.08,146.36 L184.77,146.04 L185.39,145.73 L185.99,145.41 L186.59,145.08 L187.19,144.72 L187.80,144.35 L188.40,143.96 L189.00,143.54 L189.59,143.10 L190.17,142.63 L190.73,142.13 L191.28,141.59 L191.80,141.00Z" fill="#23267a"/>
<path d="M186.89,135.24 L186.73,135.54 L186.56,135.83 L186.39,136.08 L186.21,136.31 L186.00,136.54 L185.74,136.80 L185.44,137.06 L185.10,137.34 L184.72,137.62 L184.32,137.91 L183.89,138.19 L183.44,138.47 L182.98,138.74 L182.50,139.00 L182.03,139.25 L181.58,139.48 L181.17,139.67 L180.75,139.84 L180.29,140.01 L179.79,140.17 L179.27,140.33 L178.72,140.48 L178.15,140.64 L177.57,140.80 L176.97,140.96 L176.36,141.14 L175.74,141.33 L175.15,141.53 L174.61,141.71 L174.11,141.89 L173.61,142.06 L173.12,142.24 L172.62,142.42 L172.13,142.60 L171.64,142.79 L171.14,142.98 L170.64,143.18 L170.13,143.40 L169.62,143.62 L169.12,143.86 L168.63,144.09 L168.13,144.33 L167.62,144.58 L167.10,144.83 L166.57,145.10 L166.04,145.38 L165.51,145.68 L164.99,145.98 L164.46,146.30 L163.95,146.64 L163.44,147.00 L162.95,147.38 L162.48,147.78 L162.04,148.19 L161.63,148.61 L161.25,149.03 L160.89,149.45 L160.56,149.88 L160.25,150.30 L159.97,150.71 L159.70,151.12 L159.46,151.51 L159.24,151.90 L159.03,152.27 L158.84,152.64 L158.66,153.01 L158.49,153.40 L158.34,153.81 L164.47,155.97 L164.51,155.86 L164.57,155.72 L164.66,155.54 L164.77,155.33 L164.90,155.10 L165.04,154.85 L165.20,154.59 L165.37,154.33 L165.55,154.07 L165.74,153.81 L165.94,153.55 L166.15,153.30 L166.37,153.06 L166.59,152.83 L166.82,152.62 L167.05,152.42 L167.31,152.22 L167.60,152.01 L167.94,151.79 L168.31,151.57 L168.71,151.34 L169.13,151.10 L169.57,150.87 L170.02,150.64 L170.49,150.41 L170.96,150.18 L171.42,149.96 L171.88,149.74 L172.30,149.55 L172.72,149.36 L173.13,149.19 L173.55,149.02 L173.97,148.85 L174.41,148.69 L174.85,148.52 L175.31,148.36 L175.78,148.19 L176.26,148.02 L176.76,147.85 L177.25,147.67 L177.72,147.52 L178.20,147.37 L178.73,147.22 L179.28,147.07 L179.87,146.91 L180.48,146.74 L181.11,146.56 L181.75,146.37 L182.41,146.15 L183.09,145.90 L183.76,145.63 L184.42,145.32 L185.02,145.02 L185.60,144.71 L186.19,144.38 L186.78,144.04 L187.37,143.68 L187.96,143.29 L188.53,142.89 L189.10,142.47 L189.65,142.02 L190.19,141.54 L190.70,141.03 L191.19,140.49 L191.64,139.91 L192.05,139.31 L192.41,138.71 L192.73,138.09Z" fill="#ffffff"/>
<path d="M179.43,175.69 L179.38,175.77 L179.27,175.89 L179.11,176.03 L178.91,176.19 L178.68,176.36 L178.42,176.54 L178.14,176.72 L177.84,176.91 L177.52,177.10 L177.20,177.28 L176.87,177.46 L176.57,177.63 L176.31,177.76 L176.06,177.88 L175.77,178.00 L175.46,178.12 L175.13,178.25 L174.77,178.37 L174.40,178.50 L174.01,178.64 L173.60,178.78 L173.18,178.93 L172.75,179.10 L172.34,179.27 L171.98,179.43 L171.64,179.58 L171.29,179.73 L170.93,179.89 L170.56,180.06 L170.18,180.24 L169.80,180.42 L169.42,180.62 L169.03,180.83 L168.64,181.07 L168.25,181.33 L167.87,181.62 L167.53,181.91 L167.22,182.20 L166.93,182.51 L166.65,182.83 L166.39,183.17 L166.15,183.52 L165.94,183.88 L165.74,184.27 L165.57,184.66 L165.43,185.07 L165.32,185.50 L165.23,185.96 L170.97,186.84 L170.97,186.88 L170.97,186.89 L170.99,186.88 L171.00,186.86 L171.03,186.83 L171.07,186.78 L171.12,186.73 L171.18,186.66 L171.25,186.59 L171.34,186.52 L171.43,186.45 L171.53,186.38 L171.63,186.32 L171.76,186.26 L171.93,186.17 L172.14,186.08 L172.38,185.97 L172.66,185.86 L172.95,185.75 L173.27,185.63 L173.61,185.51 L173.96,185.38 L174.32,185.25 L174.66,185.13 L174.96,185.03 L175.25,184.94 L175.57,184.84 L175.93,184.74 L176.30,184.64 L176.70,184.53 L177.12,184.41 L177.56,184.28 L178.01,184.13 L178.48,183.96 L178.97,183.77 L179.43,183.57 L179.85,183.38 L180.26,183.19 L180.67,182.98 L181.10,182.76 L181.53,182.53 L181.97,182.29 L182.40,182.02 L182.84,181.74 L183.28,181.43 L183.71,181.10 L184.14,180.72 L184.57,180.31Z" fill="#23267a"/>
<path d="M180.29,175.73 L180.23,175.88 L180.16,176.01 L180.10,176.12 L180.03,176.23 L179.93,176.35 L179.79,176.49 L179.60,176.66 L179.38,176.84 L179.12,177.03 L178.84,177.22 L178.54,177.42 L178.23,177.61 L177.90,177.80 L177.56,177.99 L177.23,178.18 L176.91,178.35 L176.63,178.49 L176.35,178.62 L176.05,178.75 L175.72,178.88 L175.38,179.01 L175.01,179.14 L174.64,179.27 L174.25,179.40 L173.85,179.54 L173.44,179.69 L173.03,179.85 L172.63,180.02 L172.28,180.17 L171.94,180.32 L171.59,180.48 L171.23,180.63 L170.87,180.80 L170.50,180.97 L170.14,181.15 L169.77,181.33 L169.41,181.54 L169.05,181.76 L168.70,182.00 L168.36,182.26 L168.05,182.52 L167.77,182.78 L167.51,183.06 L167.26,183.35 L167.03,183.65 L166.82,183.96 L166.63,184.28 L166.46,184.62 L166.31,184.97 L166.19,185.32 L166.09,185.69 L166.02,186.08 L166.01,186.49 L166.02,186.89 L166.08,187.27 L166.15,187.64 L170.09,186.93 L170.10,186.84 L170.12,186.78 L170.15,186.74 L170.18,186.72 L170.19,186.69 L170.21,186.64 L170.25,186.58 L170.29,186.51 L170.34,186.43 L170.40,186.34 L170.48,186.24 L170.57,186.15 L170.67,186.05 L170.79,185.94 L170.91,185.84 L171.04,185.74 L171.18,185.66 L171.34,185.57 L171.55,185.47 L171.78,185.36 L172.05,185.25 L172.33,185.13 L172.64,185.01 L172.97,184.89 L173.31,184.77 L173.66,184.64 L174.02,184.51 L174.37,184.38 L174.68,184.28 L174.99,184.18 L175.33,184.08 L175.69,183.98 L176.06,183.87 L176.46,183.76 L176.87,183.65 L177.30,183.52 L177.74,183.38 L178.19,183.22 L178.65,183.04 L179.09,182.85 L179.49,182.66 L179.89,182.48 L180.29,182.28 L180.71,182.06 L181.13,181.84 L181.55,181.60 L181.96,181.35 L182.38,181.09 L182.79,180.80 L183.19,180.49 L183.59,180.15 L183.97,179.77 L184.33,179.36 L184.64,178.94 L184.92,178.51 L185.15,178.08Z" fill="#ffffff"/>
<path id="arcTop" d="M95.0,131.5 A78.6,80.35 0 0 1 252.2,131.5" fill="none"/>
<path id="arcBot" d="M84.6,131.5 A89.0,90.98 0 0 0 262.6,131.5" fill="none"/>
<text class="logo" font-size="17.4" stroke="#22225f" stroke-width="0.45" text-anchor="middle" textLength="81.5" lengthAdjust="spacing"><textPath href="#arcTop" startOffset="50%" textLength="81.5" lengthAdjust="spacing">BỘ Y TẾ</textPath></text>
<text class="logo" font-size="12.4" stroke="#22225f" stroke-width="0.4" text-anchor="middle" textLength="157" lengthAdjust="spacing"><textPath href="#arcBot" startOffset="50%" textLength="157" lengthAdjust="spacing">MINISTRY OF HEALTH</textPath></text>
</g>
</svg></body></html>
